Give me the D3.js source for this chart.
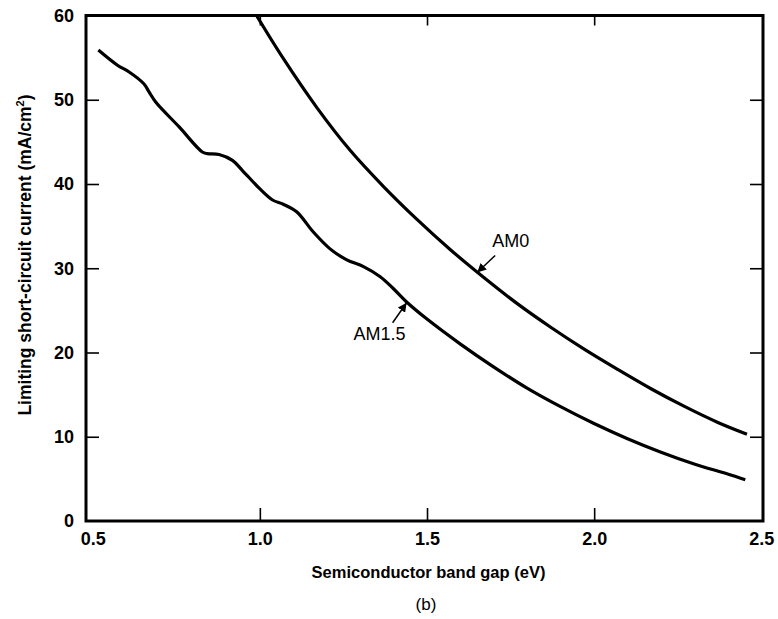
<!DOCTYPE html>
<html lang="en">
<head>
<meta charset="UTF-8">
<title>Limiting short-circuit current vs band gap</title>
<script src="https://cdn.jsdelivr.net/npm/d3@7"></script>
<style>
  body { margin: 0; background: #fff; }
  svg { font-family: "Liberation Sans", Arial, sans-serif; }
  .tick text { font-size: 18px; font-weight: bold; fill: #000; }
  .tick line { stroke: #000; stroke-width: 1.6; }
  .curve { fill: none; stroke: #000; stroke-width: 3.2; }
</style>
</head>
<body>
<svg width="778" height="619"></svg>
<script>
// AM1.5 spectrum: band gap (eV), current (mA/cm2)
var am15E = [0.517, 0.574, 0.609, 0.653, 0.669, 0.689, 0.758, 0.828, 0.843, 0.878, 0.918, 0.948,
             0.998, 1.038, 1.07, 1.11, 1.16, 1.21, 1.26, 1.31, 1.36, 1.399, 1.439, 1.499, 1.60,
             1.699, 1.798, 1.898, 1.998, 2.098, 2.198, 2.297, 2.397, 2.452];
var am15J = [55.9, 54.1, 53.3, 51.9, 50.9, 49.7, 46.8, 43.8, 43.6, 43.5, 42.8, 41.6,
             39.5, 38.1, 37.6, 36.7, 34.3, 32.3, 31.0, 30.2, 29.0, 27.6, 26.0, 24.0, 21.0,
             18.3, 15.8, 13.6, 11.6, 9.8, 8.2, 6.8, 5.6, 4.9];

// AM0 spectrum
var am0E = [0.99, 1.07, 1.17, 1.27, 1.37, 1.47, 1.57, 1.67, 1.77, 1.87, 1.97,
            2.07, 2.17, 2.27, 2.37, 2.457];
var am0J = [60.0, 54.9, 49.1, 44.0, 39.7, 35.8, 32.2, 28.9, 25.8, 23.0, 20.4,
            18.0, 15.7, 13.6, 11.7, 10.3];

var xTickLabels = [0.5, 1.0, 1.5, 2.0, 2.5];
var xTickMarks = [1.0, 1.5, 2.0];
var yTicks = [0, 10, 20, 30, 40, 50, 60];
var yTickMarks = [10, 20, 30, 40, 50];

// label name, arrow tip (eV, mA/cm2)
var labels = [
  {name: "AM0", e: 1.650, j: 29.5},
  {name: "AM1.5", e: 1.439, j: 25.9}
];

var svg = d3.select("svg");
var pLeft = 86, pRight = 763, pTop = 15.5, pBottom = 521;

var x = d3.scaleLinear().domain([0.48, 2.505]).range([pLeft, pRight]);
var y = d3.scaleLinear().domain([0, 60]).range([pBottom, pTop]);

svg.append("defs").append("clipPath").attr("id", "plot")
  .append("rect").attr("x", pLeft).attr("y", pTop)
  .attr("width", pRight - pLeft).attr("height", pBottom - pTop);

svg.append("defs").append("marker")
  .attr("id", "head")
  .attr("viewBox", "0 0 10 10")
  .attr("refX", 10).attr("refY", 5)
  .attr("markerWidth", 9).attr("markerHeight", 9)
  .attr("markerUnits", "userSpaceOnUse")
  .attr("orient", "auto")
  .append("path").attr("d", "M0,0 L10,5 L0,10 Z").attr("fill", "#000");

// tick marks pointing inward
svg.append("g").attr("transform", "translate(" + pLeft + ",0)")
  .call(d3.axisLeft(y).tickValues(yTickMarks).tickSize(-13).tickFormat(""))
  .call(g => g.select(".domain").remove());
svg.append("g").attr("transform", "translate(" + pRight + ",0)")
  .call(d3.axisRight(y).tickValues(yTickMarks).tickSize(-13).tickFormat(""))
  .call(g => g.select(".domain").remove());
svg.append("g").attr("transform", "translate(0," + pBottom + ")")
  .call(d3.axisBottom(x).tickValues(xTickMarks).tickSize(-13).tickFormat(""))
  .call(g => g.select(".domain").remove());
svg.append("g").attr("transform", "translate(0," + pTop + ")")
  .call(d3.axisTop(x).tickValues(xTickMarks).tickSize(-10).tickFormat(""))
  .call(g => g.select(".domain").remove());

// tick labels
svg.append("g").attr("transform", "translate(" + pLeft + ",0)")
  .call(d3.axisLeft(y).tickValues(yTicks).tickSize(0).tickPadding(12))
  .call(g => g.select(".domain").remove());
svg.append("g").attr("transform", "translate(0," + pBottom + ")")
  .call(d3.axisBottom(x).tickValues(xTickLabels).tickSize(0).tickPadding(11).tickFormat(d3.format(".1f")))
  .call(g => g.select(".domain").remove());

// frame
svg.append("rect")
  .attr("x", pLeft).attr("y", pTop)
  .attr("width", pRight - pLeft).attr("height", pBottom - pTop)
  .attr("fill", "none").attr("stroke", "#000").attr("stroke-width", 3);

var line = d3.line()
  .x(d => x(d[0]))
  .y(d => y(d[1]))
  .curve(d3.curveCatmullRom.alpha(0.5));

var plot = svg.append("g").attr("clip-path", "url(#plot)");
plot.append("path").attr("class", "curve").attr("d", line(d3.zip(am15E, am15J)));
plot.append("path").attr("class", "curve").attr("d", line(d3.zip(am0E, am0J)));

// annotations
var am0 = labels[0], am15 = labels[1];
svg.append("line")
  .attr("x1", x(am0.e) + 18).attr("y1", y(am0.j) - 17)
  .attr("x2", x(am0.e)).attr("y2", y(am0.j))
  .attr("stroke", "#000").attr("stroke-width", 1.5)
  .attr("marker-end", "url(#head)");
svg.append("text")
  .attr("x", x(am0.e) + 15).attr("y", y(am0.j) - 25)
  .attr("font-size", 18)
  .text(am0.name);

svg.append("line")
  .attr("x1", x(am15.e) - 14).attr("y1", y(am15.j) + 20)
  .attr("x2", x(am15.e)).attr("y2", y(am15.j))
  .attr("stroke", "#000").attr("stroke-width", 1.5)
  .attr("marker-end", "url(#head)");
svg.append("text")
  .attr("x", x(am15.e) - 53).attr("y", y(am15.j) + 37)
  .attr("font-size", 18)
  .text(am15.name);

// axis titles
svg.append("text")
  .attr("x", (pLeft + pRight) / 2 + 4).attr("y", 578)
  .attr("text-anchor", "middle")
  .attr("font-size", 16.5).attr("font-weight", "bold")
  .text("Semiconductor band gap (eV)");

svg.append("text")
  .attr("x", 426).attr("y", 610)
  .attr("text-anchor", "middle")
  .attr("font-size", 17)
  .text("(b)");

var yt = svg.append("text")
  .attr("transform", "translate(31,255) rotate(-90)")
  .attr("text-anchor", "middle")
  .attr("font-size", 17.5).attr("font-weight", "bold");
yt.append("tspan").text("Limiting short-circuit current (mA/cm");
yt.append("tspan").attr("font-size", 11).attr("dy", -7).text("2");
yt.append("tspan").attr("dy", 7).text(")");
</script>
</body>
</html>
